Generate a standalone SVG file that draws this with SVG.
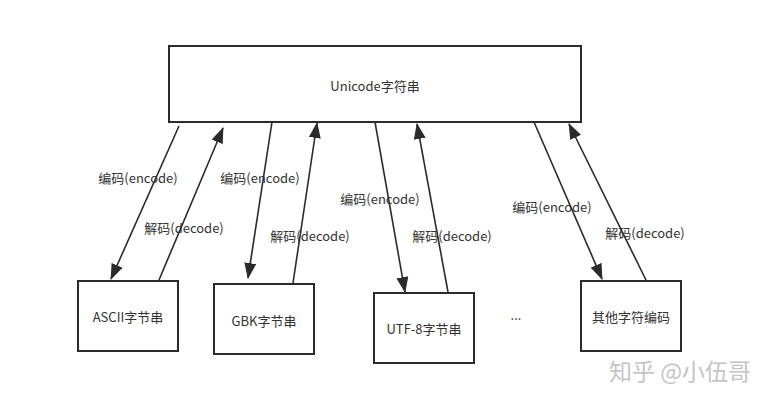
<svg xmlns="http://www.w3.org/2000/svg" width="770" height="401" viewBox="0 0 770 401">
<style>
.box{fill:#fff;stroke:#2b2b2b;stroke-width:2}
.t{font-family:"Noto Sans CJK SC","Liberation Sans",sans-serif;font-size:13px;fill:#333;text-anchor:middle;dominant-baseline:central}
.lbl{font-family:"Noto Sans CJK SC","Liberation Sans",sans-serif;font-size:13px;fill:#333;text-anchor:middle;dominant-baseline:central}
.c{stroke:#2b2b2b;stroke-width:1.6;fill:none;marker-end:url(#ah)}
</style>
<defs>
<marker id="ah" markerUnits="userSpaceOnUse" markerWidth="16" markerHeight="12" viewBox="0 0 16 12" refX="15" refY="6" orient="auto">
<path d="M0,0 L16,6 L0,12 Z" fill="#2b2b2b"/>
</marker>
</defs>
<rect width="770" height="401" fill="#fff"/>
<g id="connectors">
<line class="c" x1="179" y1="126" x2="111" y2="279"/>
<line class="c" x1="159" y1="280" x2="223" y2="128"/>
<line class="c" x1="272" y1="122" x2="248" y2="278"/>
<line class="c" x1="293" y1="283" x2="317" y2="123"/>
<line class="c" x1="375" y1="122" x2="405" y2="292"/>
<line class="c" x1="448" y1="292" x2="417" y2="124"/>
<line class="c" x1="534" y1="122" x2="602" y2="279"/>
<line class="c" x1="646" y1="280" x2="569" y2="124"/>
<text class="lbl" x="138" y="177">编码(encode)</text>
<text class="lbl" x="184" y="227">解码(decode)</text>
<text class="lbl" x="260" y="177">编码(encode)</text>
<text class="lbl" x="310" y="235">解码(decode)</text>
<text class="lbl" x="380" y="198">编码(encode)</text>
<text class="lbl" x="452" y="235">解码(decode)</text>
<text class="lbl" x="552" y="206">编码(encode)</text>
<text class="lbl" x="645" y="232">解码(decode)</text>
</g>
<g id="unicode">
<rect class="box" x="169" y="46" width="412" height="76"/>
<text class="t" x="375" y="85">Unicode字符串</text>
</g>
<g id="ascii">
<rect class="box" x="78" y="281" width="100" height="70"/>
<text class="t" x="128" y="316">ASCII字节串</text>
</g>
<g id="gbk">
<rect class="box" x="214" y="284" width="100" height="70"/>
<text class="t" x="264" y="320">GBK字节串</text>
</g>
<g id="utf8">
<rect class="box" x="374" y="293" width="100" height="70"/>
<text class="t" x="424" y="328">UTF-8字节串</text>
</g>
<g id="ellipsis">
<text class="t" x="516" y="314">...</text>
</g>
<g id="other">
<rect class="box" x="581" y="281" width="100" height="70"/>
<text class="t" x="631" y="316">其他字符编码</text>
</g>
<text x="680" y="370" font-family="Noto Sans CJK SC, sans-serif" font-size="23" fill="#c4c4c4" text-anchor="middle" dominant-baseline="central">知乎 @小伍哥</text>
</svg>
